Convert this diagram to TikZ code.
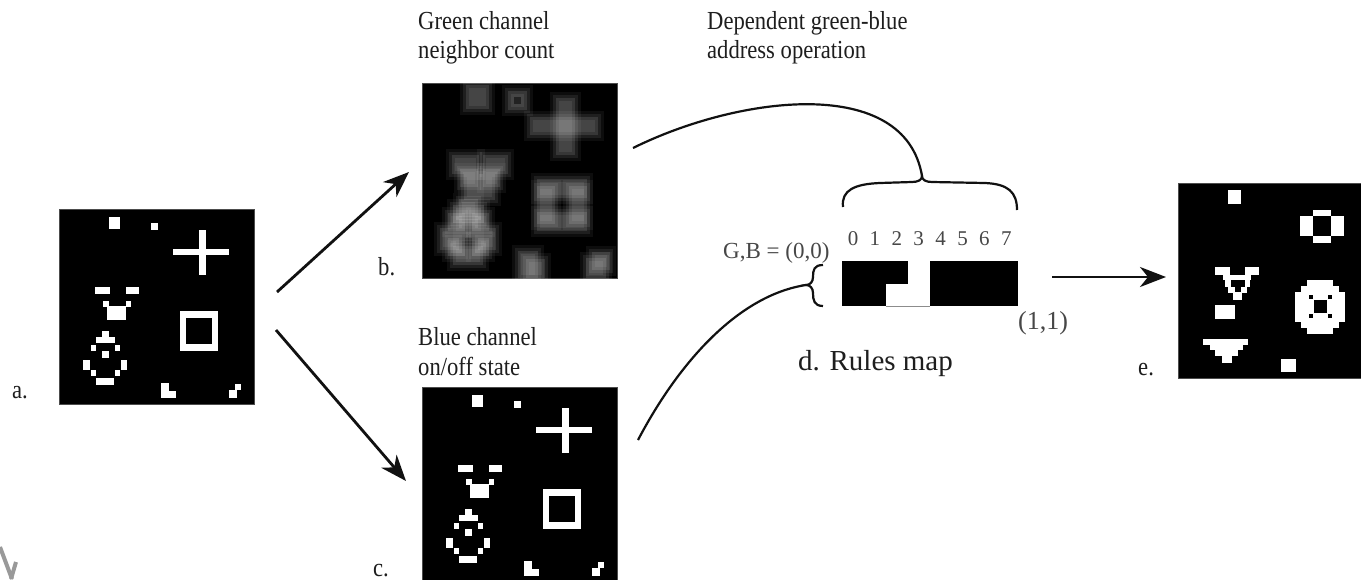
\documentclass[tikz,border=0pt]{standalone}
\usepackage{fontspec}
\setmainfont{Liberation Serif}
\usetikzlibrary{arrows.meta,calc}
\definecolor{txt}{HTML}{1E1E1E}
\definecolor{txtl}{HTML}{474747}
\definecolor{ink}{HTML}{111111}

\newcommand\wcell[4]{\fill[white] (#1,#2) rectangle (#3,#4);}
\newcommand\gcell[4]{%
  \fill[white,opacity=.05] (#1-12,#2-12) rectangle (#3+12,#4+12);%
  \fill[white,opacity=.08] (#1-9,#2-9) rectangle (#3+9,#4+9);%
  \fill[white,opacity=.11] (#1-6,#2-6) rectangle (#3+6,#4+6);%
  \fill[white,opacity=.07] (#1-3,#2-3) rectangle (#3+3,#4+3);}
\newcommand\hscale[1]{\scalebox{0.87}[1]{#1}}

\newcommand\FeatA[1]{%
#1{50}{8}{61}{20}%
#1{92}{14}{99}{21}%
#1{114}{40}{170}{46}#1{140}{21}{147}{66}%
#1{36}{78}{51}{85}#1{67}{78}{80}{85}%
#1{44}{92}{50}{98}#1{67}{92}{72}{98}%
#1{48}{97}{67}{111}%
#1{43}{122}{50}{128}#1{37}{128}{56}{134}#1{32}{136}{37}{142}#1{56}{136}{61}{142}%
#1{43}{142}{50}{149}#1{24}{151}{31}{161}#1{62}{151}{68}{161}#1{32}{161}{37}{167}%
#1{56}{161}{61}{167}#1{37}{169}{55}{176}%
#1{121}{102}{159}{109}#1{121}{135}{159}{142}#1{121}{109}{127}{135}#1{153}{109}{159}{135}%
#1{102}{174}{110}{189}#1{110}{182}{117}{189}%
#1{176}{175}{182}{181}#1{170}{181}{178}{189}}

\newcommand\FeatE[1]{%
#1{50}{7}{63}{21}%
#1{135}{27}{153}{33}#1{122}{33}{135}{53}#1{153}{33}{166}{53}#1{135}{53}{153}{60}%
#1{37}{84}{52}{92}#1{67}{84}{81}{92}%
#1{45}{92}{73}{97}#1{47}{97}{53}{104}#1{67}{97}{72}{104}#1{50}{104}{57}{110}#1{63}{104}{69}{110}#1{55}{109}{64}{117}%
#1{37}{122}{57}{136}%
#1{25}{156}{70}{162}#1{32}{161}{65}{167}#1{37}{167}{60}{173}#1{44}{172}{54}{180}%
#1{103}{176}{118}{189}%
#1{129}{97}{155}{103}#1{123}{103}{161}{109}#1{117}{109}{167}{139}#1{123}{139}{161}{145}#1{129}{145}{155}{151}}

\tikzset{
  imgbox/.style={fill=black, draw=black!70, line width=0.6pt, minimum width=195pt, minimum height=195pt, inner sep=0pt, anchor=north west},
  lbl/.style={font=\fontsize{26}{28}\selectfont, text=txt, inner sep=0pt, anchor=base west},
  dig/.style={font=\fontsize{21}{23}\selectfont, text=txtl, inner sep=0pt, anchor=base},
  arr/.style={draw=ink, line width=2.8pt, -{Stealth[length=26pt,width=20pt,inset=8pt]}},
  crv/.style={draw=ink, line width=2.2pt},
}

\begin{document}
\begin{tikzpicture}[x=1pt,y=-1pt]
\useasboundingbox (0,0) rectangle (1361,579);
\clip (0,0) rectangle (1361,579);
\fill[white] (0,0) rectangle (1361,579);

% images
\node[imgbox] (A) at (59,209) {};
\begin{scope}[shift={(A.north west)}] \FeatA{\wcell} \end{scope}

\node[imgbox] (B) at (422,83) {};
\begin{scope}[shift={(B.north west)}]
  \clip (0,0) rectangle (195,195);
  \FeatA{\gcell}
  \fill[black,opacity=.5] (92,14) rectangle (99,21);
\end{scope}

\node[imgbox] (C) at (422,387) {};
\begin{scope}[shift={(C.north west)}] \FeatA{\wcell} \end{scope}

\node[imgbox] (E) at (1178,183) {};
\begin{scope}[shift={(E.north west)}]
  \FeatE{\wcell}
  \fill[black] (136,117) rectangle (149,130);
  \fill[black] (131,112) rectangle (135,116);
  \fill[black] (150,112) rectangle (154,116);
  \fill[black] (131,131) rectangle (135,135);
  \fill[black] (150,131) rectangle (154,135);
\end{scope}

% rules map
\node[fill=black, inner sep=0pt, minimum width=66pt, minimum height=22.5pt, anchor=north west] (R0) at (842,261) {};
\node[fill=black, inner sep=0pt, minimum width=44pt, minimum height=22.5pt, anchor=north west] (R1) at (842,283.5) {};
\node[fill=black, inner sep=0pt, minimum width=88pt, minimum height=45pt, anchor=north west] (R2) at (930,261) {};
\draw[black!45, line width=0.8pt] (R1.south east) -- (R2.south west);

% labels
\node[lbl] (la) at (12,398) {\hscale{a.}};
\node[lbl] (lb) at (378,275) {\hscale{b.}};
\node[lbl] (lc) at (373,576) {\hscale{c.}};
\node[lbl] (le) at (1138,375) {\hscale{e.}};
\node[lbl] (g1) at (418,29) {\hscale{Green channel}};
\node[lbl] (g2) at (418,58) {\hscale{neighbor count}};
\node[lbl] (bl1) at (418,345) {\hscale{Blue channel}};
\node[lbl] (bl2) at (418,375) {\hscale{on/off state}};
\node[lbl] (dp1) at (707,29) {\hscale{Dependent green-blue}};
\node[lbl] (dp2) at (707,58) {\hscale{address operation}};
\node[lbl, font=\fontsize{29}{31}\selectfont] (dr) at (798,370) {d. Rules map};
\node[lbl, text=txtl, font=\fontsize{23}{25}\selectfont] (gb) at (723,258) {G,B = (0,0)};
\node[lbl, text=txtl, font=\fontsize{26}{28}\selectfont] (one) at (1018,329) {(1,1)};
\foreach \i in {0,...,7} {
  \node[dig] (d\i) at (853+21.9*\i,245) {\i};
}

% coordinates
\coordinate (a1s) at (277,292);
\coordinate (a1e) at (409,172);
\coordinate (a2s) at (276,330);
\coordinate (a2e) at (406,481);
\coordinate (de1) at (1052,277);
\coordinate (de2) at (1166,277);
\coordinate (bc) at (633,148);
\coordinate (cc) at (638,440);
\coordinate (tip) at (922,176);
\coordinate (ltip) at (806,285);

% arrows
\draw[arr] (a1s) -- (a1e);
\draw[arr] (a2s) -- (a2e);
\draw[arr] (de1) -- (de2);

% curves
\draw[crv] (bc) .. controls (740,95) and (905,75) .. (tip);
\draw[crv] (cc) .. controls (680,360) and (740,295) .. (ltip);
% top brace
\draw[crv] (843,207) .. controls (841,190) and (855,184) .. (880,183) -- (912,182)
  .. controls (918,182) and (922,180) .. (tip)
  .. controls (922,180) and (926,182) .. (932,182) -- (985,183)
  .. controls (1008,184) and (1017,192) .. (1017,210);
% left brace
\draw[crv] (823,265) .. controls (814,265) and (813,270) .. (813,277)
  .. controls (813,282) and (810,285) .. (ltip)
  .. controls (810,285) and (813,288) .. (813,293)
  .. controls (813,300) and (814,306) .. (823,306);

% watermark fragment
\draw[black!40, line width=4pt] (0,547) -- (12,579);
\draw[black!40, line width=4pt] (11,579) -- (16,562);
\end{tikzpicture}
\end{document}
